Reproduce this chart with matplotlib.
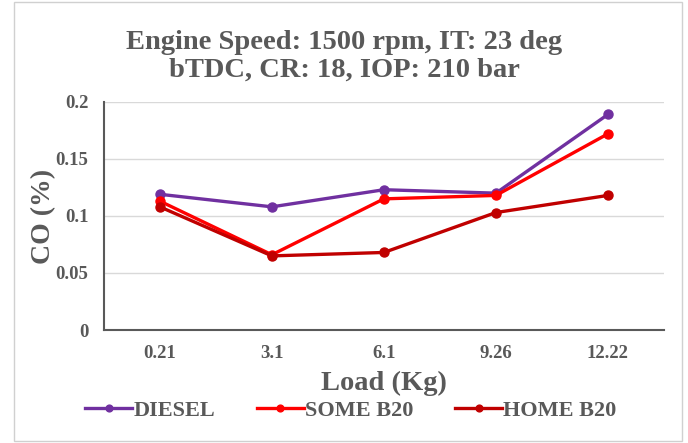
import matplotlib.pyplot as plt
from matplotlib.patches import Rectangle

loads = ['0.21', '3.1', '6.1', '9.26', '12.22']
diesel = [0.119, 0.108, 0.123, 0.120, 0.189]
some_b20 = [0.113, 0.066, 0.115, 0.118, 0.172]
home_b20 = [0.108, 0.065, 0.068, 0.103, 0.118]

plt.rcParams['font.family'] = ['Liberation Serif', 'DejaVu Serif']
plt.rcParams['font.weight'] = 'bold'

fig = plt.figure(figsize=(6.88, 4.43), dpi=100)
ax = fig.add_axes([0.151, 0.255, 0.814, 0.515])

# outer frame like the spreadsheet chart area
fig.patches.append(Rectangle((0.02, 0.005), 0.972, 0.99, transform=fig.transFigure,
                             fill=False, edgecolor='#d0d0d0', linewidth=1))

x = range(len(loads))
ax.plot(x, diesel, color='#7030A0', marker='o', markersize=6.5, linewidth=2.4, label='DIESEL')
ax.plot(x, some_b20, color='#FF0000', marker='o', markersize=6.5, linewidth=2.4, label='SOME B20')
ax.plot(x, home_b20, color='#C00000', marker='o', markersize=6.5, linewidth=2.4, label='HOME B20')

ax.set_xlim(-0.5, 4.5)
ax.set_ylim(0, 0.2)
ax.set_yticks([0, 0.05, 0.1, 0.15, 0.2])
ax.set_yticklabels(['0', '0.05', '0.1', '0.15', '0.2'])
ax.set_xticks(list(x))
ax.set_xticklabels(loads)
ax.tick_params(length=0, labelsize=13.5, colors='#595959')
ax.xaxis.set_tick_params(pad=11)
ax.yaxis.set_tick_params(pad=11)
ax.grid(axis='y', color='#d9d9d9', linewidth=1)
ax.set_axisbelow(True)
for s in ['top', 'right']:
    ax.spines[s].set_visible(False)
ax.spines['left'].set_color('#595959')
ax.spines['bottom'].set_color('#595959')
ax.spines['left'].set_linewidth(1.5)
ax.spines['bottom'].set_linewidth(1.5)

ax.set_xlabel('Load (Kg)', fontsize=20.5, fontweight='bold', color='#595959', labelpad=6)
ax.set_ylabel('CO (%)', fontsize=20, fontweight='bold', color='#595959', labelpad=0)

fig.text(0.50, 0.872, 'Engine Speed: 1500 rpm, IT: 23 deg\nbTDC, CR: 18, IOP: 210 bar',
         ha='center', va='center', fontsize=20.5, color='#595959', linespacing=1.15)

fig.legend(loc='center', bbox_to_anchor=(0.51, 0.073), ncol=3, frameon=False,
           fontsize=16, handlelength=2.1, columnspacing=1.9, handletextpad=0.05,
           labelcolor='#595959', markerscale=0.75)

fig.savefig('out.png', dpi=100)
